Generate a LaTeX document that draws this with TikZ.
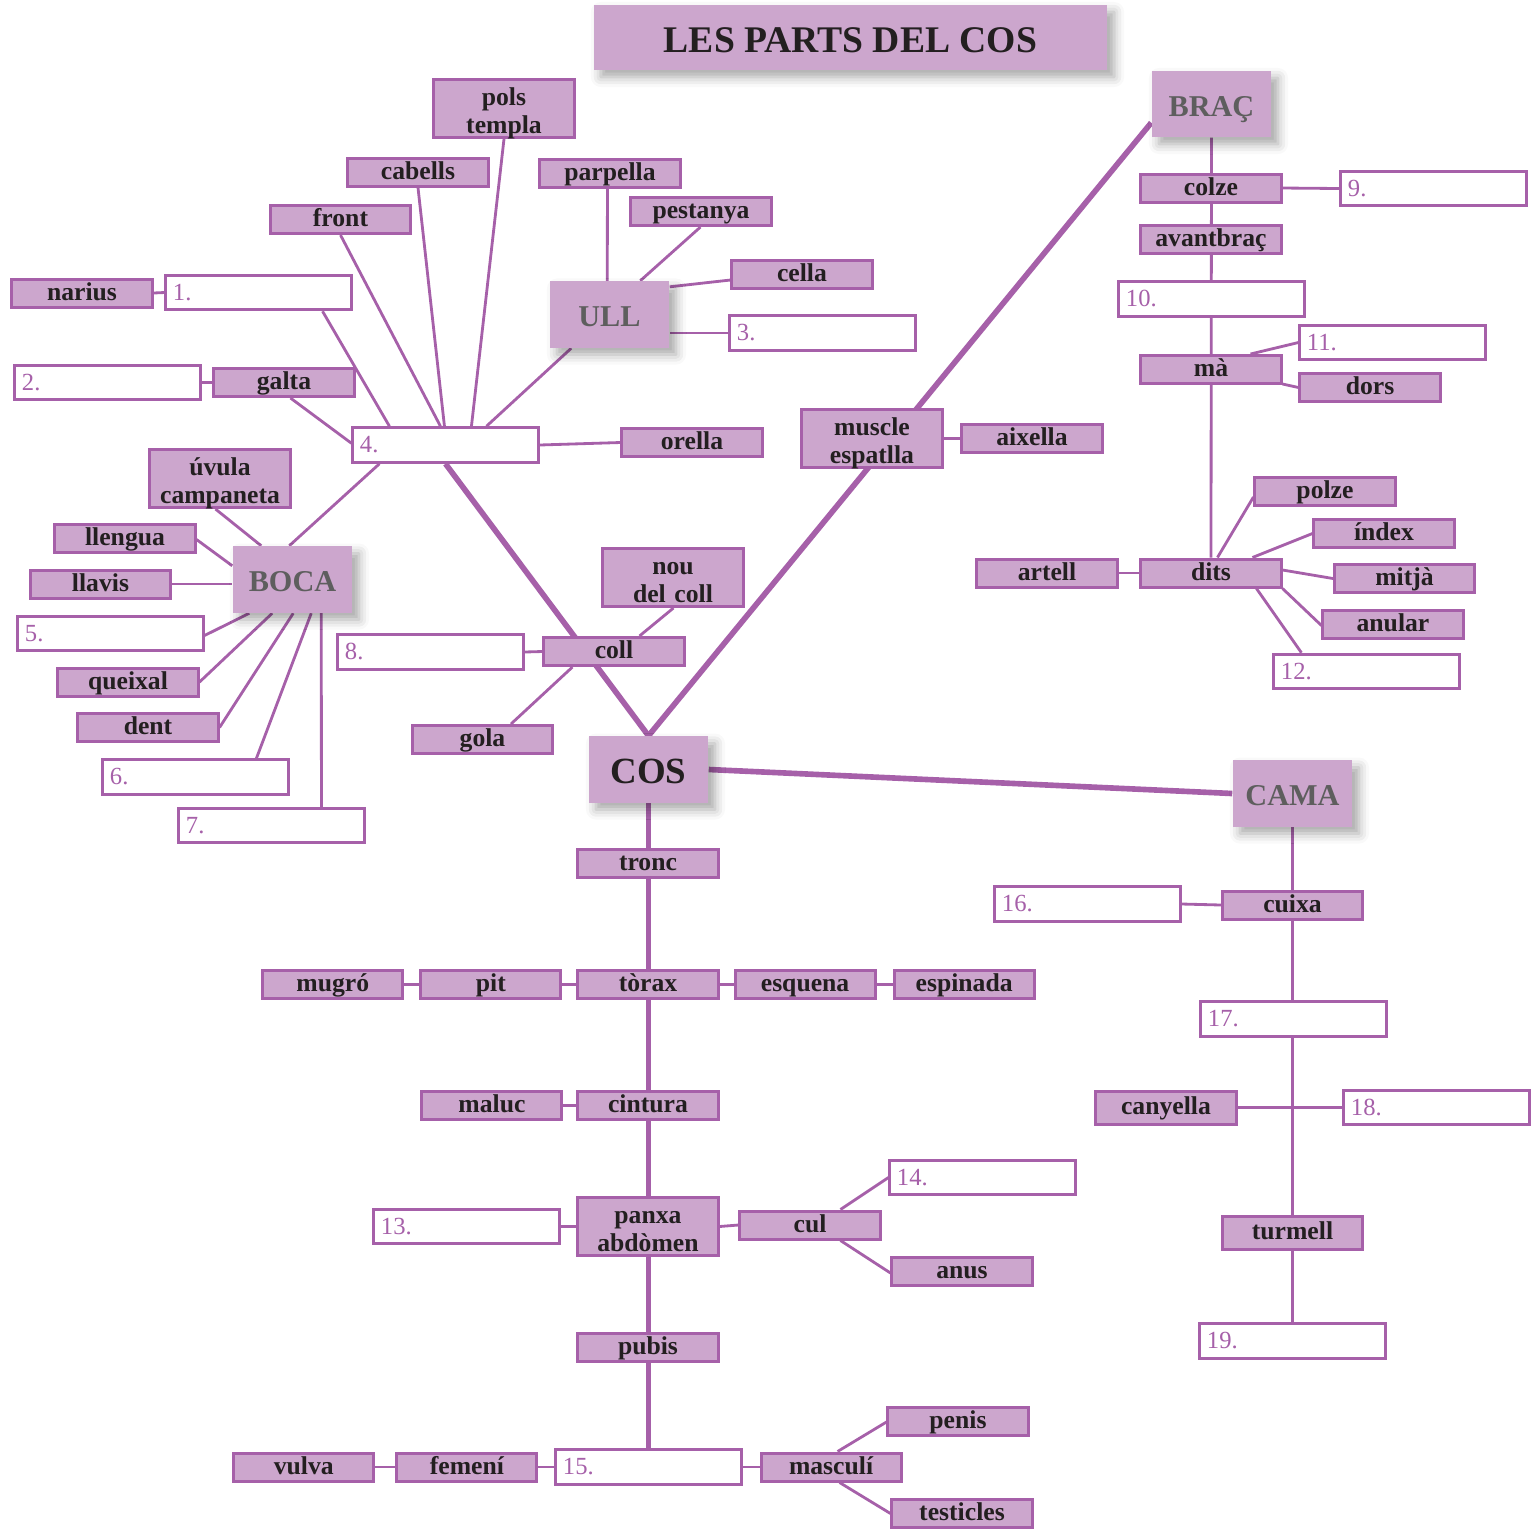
\documentclass[tikz,border=0pt]{standalone}
\usepackage{fontspec}
\setmainfont{Liberation Serif}
\usetikzlibrary{positioning,calc,shadows,shadows.blur}
\definecolor{lila}{HTML}{CCA6CD}
\definecolor{lilaline}{HTML}{A660A9}
\definecolor{inkgray}{HTML}{5E5E5E}
\definecolor{ink}{HTML}{231F20}
\tikzstyle{part} = [draw=lilaline, line width=0.85pt, fill=lila, text=ink, font=\bfseries\fontsize{7.3}{8}\selectfont, minimum width=1.40cm, minimum height=0.28cm, inner sep=0pt, text height=0.17cm, text depth=0.03cm, text centered]
\tikzstyle{parttwo} = [draw=lilaline, line width=0.85pt, fill=lila, text=ink, font=\bfseries\fontsize{7.3}{8}\selectfont, minimum width=1.40cm, minimum height=0.58cm, inner sep=0pt, text width=1.38cm, text height=0.17cm, text depth=0.24cm, align=center]
\tikzstyle{blank} = [draw=lilaline, line width=0.85pt, fill=white, text=lilaline, font=\fontsize{7}{8}\selectfont, text width=1.71cm, align=left, minimum height=0.345cm, inner xsep=0.07cm, inner ysep=0pt, text height=0.15cm, text depth=0pt]
\tikzstyle{region} = [fill=lila, text=inkgray, font=\bfseries\fontsize{8.6}{10}\selectfont, minimum width=1.19cm, minimum height=0.66cm, inner sep=0pt, text height=0.24cm, text depth=0pt, blur shadow={shadow xshift=0.07cm, shadow yshift=-0.07cm, shadow blur radius=0.1cm, shadow opacity=35}]
\tikzstyle{line} = [draw=lilaline, line width=0.8pt]
\tikzstyle{spine} = [draw=lilaline, line width=1.6pt]
\pgfdeclarelayer{background}
\pgfsetlayers{background,main}

\begin{document}
\begin{tikzpicture}[x=0.01cm, y=-0.01cm]
    \useasboundingbox (0,0) rectangle (1535,1529);
    % Place nodes
    \node [region, text=ink, font=\bfseries\fontsize{10.7}{12}\selectfont, minimum width=5.13cm, minimum height=0.65cm, text height=0.29cm] (title) at (850.5,37.5) {LES PARTS DEL COS};
    \node [region] (brac) at (1211.5,104) {BRAÇ};
    \node [region] (ull) at (609.5,314.5) {ULL};
    \node [region] (boca) at (292.5,579.5) {BOCA};
    \node [region, text=ink, font=\bfseries\fontsize{10.5}{12}\selectfont, text height=0.27cm] (cos) at (648.5,769.5) {COS};
    \node [region] (cama) at (1292.5,793.5) {CAMA};
    % cap
    \node [parttwo] (pols) at (504,108.5) {pols\\templa};
    \node [part] (cabells) at (418,172) {cabells};
    \node [part] (parpella) at (610,173) {parpella};
    \node [part] (front) at (340.5,219.5) {front};
    \node [part] (pestanya) at (701,211.5) {pestanya};
    \node [part] (cella) at (802,274.5) {cella};
    \node [part] (narius) at (82,293) {narius};
    \node [blank] (box1) at (258.5,292.5) {1.};
    \node [blank] (box3) at (822.5,333) {3.};
    \node [blank] (box2) at (107.5,382.5) {2.};
    \node [part] (galta) at (284,382.5) {galta};
    \node [blank] (box4) at (445.5,445) {4.};
    \node [part] (orella) at (692,442.5) {orella};
    % boca
    \node [parttwo] (uvula) at (220,478.5) {úvula\\campaneta};
    \node [part] (llengua) at (125,538) {llengua};
    \node [part] (llavis) at (100.5,584) {llavis};
    \node [blank] (box5) at (110.5,633.5) {5.};
    \node [part] (queixal) at (128,682) {queixal};
    \node [part] (dent) at (148,727.5) {dent};
    \node [blank] (box6) at (195.5,777) {6.};
    \node [blank] (box7) at (271.5,825.5) {7.};
    % coll
    \node [parttwo] (nou) at (673,577.5) {nou\\del coll};
    \node [blank] (box8) at (430.5,652) {8.};
    \node [part] (coll) at (614,651.5) {coll};
    \node [part] (gola) at (482.5,739.5) {gola};
    % braç
    \node [parttwo] (muscle) at (872,438.5) {muscle\\espatlla};
    \node [part] (aixella) at (1032,438.5) {aixella};
    \node [part] (colze) at (1211,188) {colze};
    \node [blank] (box9) at (1433.5,188.5) {9.};
    \node [part] (avantbrac) at (1211,239.5) {avantbraç};
    \node [blank] (box10) at (1211.5,299) {10.};
    \node [blank] (box11) at (1392.5,342.5) {11.};
    \node [part] (ma) at (1211,369.5) {mà};
    \node [part] (dors) at (1370,387.5) {dors};
    \node [part] (polze) at (1325,491.5) {polze};
    \node [part] (index) at (1384,533.5) {índex};
    \node [part] (dits) at (1211,573) {dits};
    \node [part] (artell) at (1047,573) {artell};
    \node [part] (mitja) at (1404.5,578.5) {mitjà};
    \node [part] (anular) at (1393,624.5) {anular};
    \node [blank] (box12) at (1366.5,671.5) {12.};
    % tronc
    \node [part] (tronc) at (648,863.5) {tronc};
    \node [part] (torax) at (648,984.5) {tòrax};
    \node [part, left=0.14cm of torax] (pit) {pit};
    \node [part, left=0.15cm of pit] (mugro) {mugró};
    \node [part, right=0.14cm of torax] (esquena) {esquena};
    \node [part, right=0.16cm of esquena] (espinada) {espinada};
    \node [part] (cintura) at (648,1105.5) {cintura};
    \node [part, left=0.13cm of cintura] (maluc) {maluc};
    \node [parttwo] (panxa) at (648,1226.5) {panxa\\abdòmen};
    \node [blank] (box13) at (466.5,1226.5) {13.};
    \node [part] (cul) at (810,1225) {cul};
    \node [blank] (box14) at (982.5,1177.5) {14.};
    \node [part] (anus) at (962,1271) {anus};
    \node [part] (pubis) at (648,1347.5) {pubis};
    \node [blank] (box15) at (648.5,1467) {15.};
    \node [part, left=0.16cm of box15] (femeni) {femení};
    \node [part, left=0.2cm of femeni] (vulva) {vulva};
    \node [part, right=0.17cm of box15] (masculi) {masculí};
    \node [part] (penis) at (958,1421.5) {penis};
    \node [part] (testicles) at (962,1513.5) {testicles};
    % cama
    \node [part] (cuixa) at (1292.5,905) {cuixa};
    \node [blank] (box16) at (1087.5,904) {16.};
    \node [blank] (box17) at (1293.5,1019) {17.};
    \node [part, minimum height=0.33cm] (canyella) at (1166,1107.5) {canyella};
    \node [blank] (box18) at (1436.5,1107.5) {18.};
    \node [part, minimum height=0.33cm] (turmell) at (1292.5,1232.5) {turmell};
    \node [blank] (box19) at (1292.5,1341) {19.};
    % Draw edges
    \begin{pgfonlayer}{background}
    \path [spine] (box4.south) -- (cos.north);
    \path [spine] (cos.north) -- ($(brac.south west)+(0,-15)$);
    \path [spine] (cos.east) -- (cama.west);
    \path [spine] (cos.south) -- (box15.north);
    % cap
    \path [line] ($(box1.south east)+(-30,0)$) -- ($(box4.north west)+(38,0)$);
    \path [line] (front.south) -- ($(box4.north west)+(89,0)$);
    \path [line] (cabells.south) -- ($(box4.north west)+(93,0)$);
    \path [line] (pols.south) -- ($(box4.north west)+(120,0)$);
    \path [line] ($(ull.south west)+(22,0)$) -- ($(box4.north west)+(135,0)$);
    \path [line] ($(galta.south west)+(78,0)$) -- ($(box4.north west)+(0,17)$);
    \path [line] (box4.east) -- (orella.west);
    \path [line] ($(box4.south west)+(28,0)$) -- ($(boca.north west)+(57,0)$);
    \path [line] ($(parpella.south west)+(69,0)$) -- ($(ull.north west)+(58,0)$);
    \path [line] ($(pestanya.south west)+(71,0)$) -- ($(ull.north west)+(91,0)$);
    \path [line] ($(cella.south west)+(0,-10)$) -- ($(ull.north east)+(0,6)$);
    \path [line] (box3.west) -- (box3.west -| ull.east);
    \path [line] (narius.east) -- (box1.west);
    \path [line] (box2.east) -- (galta.west);
    % boca
    \path [line] ($(uvula.south west)+(67,0)$) -- ($(boca.north west)+(29,0)$);
    \path [line] ($(llengua.south east)+(0,-14)$) -- ($(boca.north west)+(0,20)$);
    \path [line] (llavis.east) -- (llavis.east -| boca.west);
    \path [line] ($(box5.east)+(0,2)$) -- ($(boca.south west)+(17,0)$);
    \path [line] (queixal.east) -- ($(boca.south west)+(40,0)$);
    \path [line] (dent.east) -- ($(boca.south west)+(61,0)$);
    \path [line] ($(box6.north west)+(155,0)$) -- ($(boca.south west)+(79,0)$);
    \path [line] ($(box7.north west)+(144,0)$) -- ($(boca.south west)+(89,0)$);
    % coll
    \path [line] (box8.east) -- (coll.west);
    \path [line] ($(nou.south west)+(72,0)$) -- ($(coll.north west)+(97,0)$);
    \path [line] ($(gola.north west)+(100,0)$) -- ($(coll.south west)+(30,0)$);
    % braç
    \path [line] (muscle.east) -- (aixella.west);
    \path [line] (brac.south) -- (dits.north);
    \path [line] (colze.east) -- (box9.west);
    \path [line] ($(ma.north east)+(-32,0)$) -- (box11.west);
    \path [line] ($(ma.south east)+(0,-1)$) -- (dors.west);
    \path [line] ($(dits.north west)+(78,0)$) -- ($(polze.south west)+(0,-10)$);
    \path [line] ($(dits.north west)+(113,0)$) -- (index.west);
    \path [line] ($(dits.east)+(0,-3)$) -- (mitja.west);
    \path [line] (dits.south east) -- ($(anular.west)+(0,1)$);
    \path [line] ($(dits.south west)+(117,0)$) -- ($(box12.north west)+(29,0)$);
    \path [line] (artell.east) -- (dits.west);
    % tronc
    \path [line] (mugro.east) -- (pit.west);
    \path [line] (pit.east) -- (torax.west);
    \path [line] (torax.east) -- (esquena.west);
    \path [line] (esquena.east) -- (espinada.west);
    \path [line] (maluc.east) -- (cintura.west);
    \path [line] (box13.east) -- (panxa.west);
    \path [line] (panxa.east) -- (cul.west);
    \path [line] ($(cul.north west)+(102,0)$) -- (box14.west);
    \path [line] ($(cul.south west)+(102,0)$) -- ($(anus.west)+(0,2)$);
    \path [line] (vulva.east) -- (femeni.west);
    \path [line] (femeni.east) -- (box15.west);
    \path [line] (box15.east) -- (masculi.west);
    \path [line] ($(masculi.north west)+(78,0)$) -- ($(penis.south west)+(0,-15)$);
    \path [line] ($(masculi.south west)+(80,0)$) -- (testicles.west);
    % cama
    \path [line] (cama.south) -- (turmell.north);
    \path [line] (turmell.south) -- (box19.north);
    \path [line] (box16.east) -- (cuixa.west);
    \path [line] (canyella.east) -- (box18.west);
    \end{pgfonlayer}
\end{tikzpicture}
\end{document}
